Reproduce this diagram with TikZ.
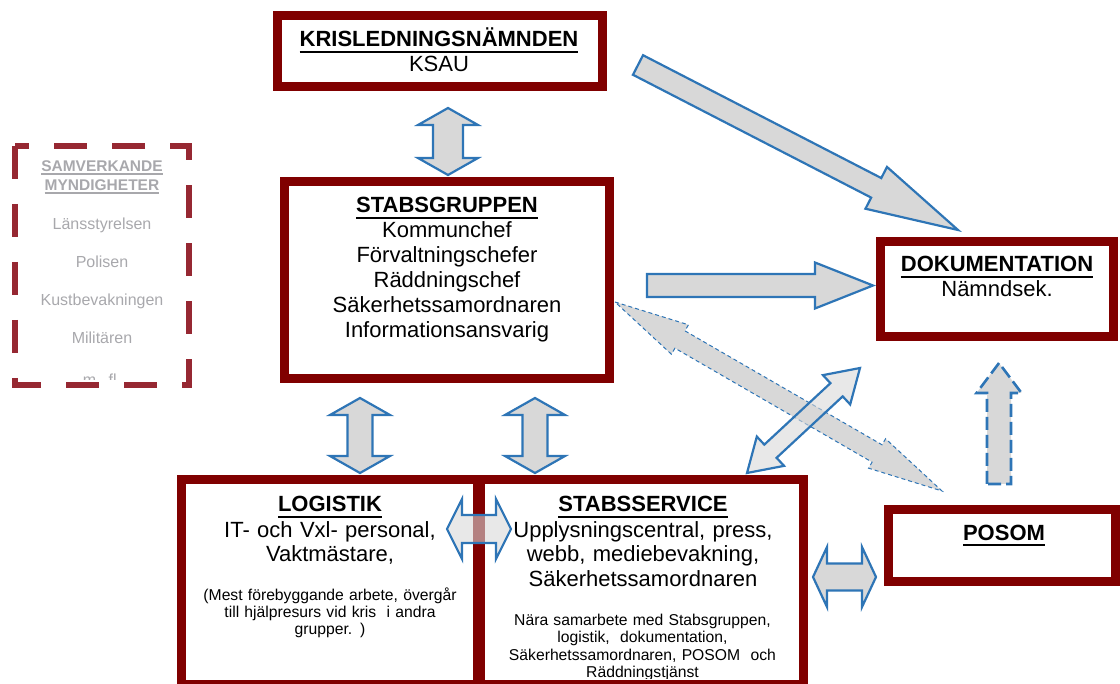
\documentclass[tikz,border=0pt]{standalone}
\usepackage{fontspec}
\setmainfont{Liberation Sans}
\usetikzlibrary{calc}

\definecolor{boxred}{RGB}{128,0,0}
\definecolor{dashred}{RGB}{150,40,50}
\definecolor{arrowblue}{RGB}{46,117,182}
\definecolor{arrowfill}{RGB}{216,216,216}
\definecolor{samgray}{RGB}{168,168,172}

% underlined title: depth, thickness, text
\newcommand{\ulbox}[3]{\leavevmode\setbox0\hbox{#3}\rlap{\rule[-#1]{\wd0}{#2}}\box0}

\tikzset{
  box/.style={draw=boxred, line width=9pt, inner sep=0pt},
  boxtext/.style={anchor=base, align=center, inner sep=0pt, text width=320pt,
    font=\fontsize{22}{25}\selectfont},
  smalltext/.style={anchor=base, align=center, inner sep=0pt, text width=320pt,
    font=\fontsize{15.7}{17.5}\selectfont},
  samtext/.style={anchor=base, align=center, inner sep=0pt, text width=170pt,
    text=samgray, font=\fontsize{16}{37.7}\selectfont},
  blockarr/.style={draw=arrowblue, line width=2.2pt, fill=arrowfill},
  thinarr/.style={draw=arrowblue, line width=1pt, dash pattern=on 4pt off 3pt, fill=arrowfill},
  thickarr/.style={draw=arrowblue, line width=2.6pt, dash pattern=on 13pt off 5pt, fill=arrowfill},
}

\begin{document}
\begin{tikzpicture}[x=1pt,y=-1pt]
    \newcommand{\onearrow}[6]{% style, tail, tip, shaft, head, head length
      \coordinate (hb) at ($(#3)!#6!(#2)$);
      \draw[#1] ($(#2)!#4!90:(#3)$) -- ($(hb)!#4!-90:(#2)$) -- ($(hb)!#5!-90:(#2)$) -- (#3)
        -- ($(hb)!#5!90:(#2)$) -- ($(hb)!#4!90:(#2)$) -- ($(#2)!#4!-90:(#3)$) -- cycle;
    }
    \newcommand{\twoarrow}[6]{% style, end, end, shaft, head, head length
      \coordinate (ha) at ($(#2)!#6!(#3)$);
      \coordinate (hb) at ($(#3)!#6!(#2)$);
      \draw[#1] (#2) -- ($(ha)!#5!90:(#3)$) -- ($(ha)!#4!90:(#3)$) -- ($(hb)!#4!-90:(#2)$)
        -- ($(hb)!#5!-90:(#2)$) -- (#3) -- ($(hb)!#5!90:(#2)$) -- ($(hb)!#4!90:(#2)$)
        -- ($(ha)!#4!-90:(#3)$) -- ($(ha)!#5!-90:(#3)$) -- cycle;
    }

    \useasboundingbox (0,0) rectangle (1120,684);

    % boxes
    \node[box, minimum width=325pt, minimum height=71pt] (kris) at (440,51) {};
    \node[box, minimum width=325pt, minimum height=197pt] (stabs) at (447,280) {};
    \node[box, minimum width=233pt, minimum height=95pt] (dok) at (996.5,289.5) {};
    \node[box, minimum width=227pt, minimum height=71pt] (posom) at (1001.5,545.5) {};
    \node[box, minimum width=296pt, minimum height=205pt] (logistik) at (329.5,582) {};
    \node[box, minimum width=323pt, minimum height=205pt] (service) at (642,582) {};

    % texts
    \node[boxtext] (krislabel) at (439,47) {\textbf{\ulbox{6pt}{2.3pt}{KRISLEDNINGSNÄMNDEN}}\\KSAU};
    \node[boxtext] (stabslabel) at (447,213) {\textbf{\ulbox{6pt}{2.3pt}{STABSGRUPPEN}}\\Kommunchef\\
      Förvaltningschefer\\Räddningschef\\Säkerhetssamordnaren\\Informationsansvarig};
    \node[boxtext] (doklabel) at (997,272) {\textbf{\ulbox{6pt}{2.3pt}{DOKUMENTATION}}\\Nämndsek.};
    \node[boxtext] (posomlabel) at (1004,540) {\textbf{\ulbox{6pt}{2.3pt}{POSOM}}};
    \node[boxtext] (loglabel) at (330,512) {\textbf{\ulbox{6pt}{2.3pt}{LOGISTIK}}\\
      IT- och Vxl- personal,\\Vaktmästare,};
    \node[smalltext] (lognote) at (330,600) {(Mest förebyggande arbete, övergår\\
      till hjälpresurs vid kris\ \ i andra\\grupper. )};
    \node[boxtext] (servlabel) at (643,512) {\textbf{\ulbox{6pt}{2.3pt}{STABSSERVICE}}\\
      Upplysningscentral, press,\\webb, mediebevakning,\\Säkerhetssamordnaren};
    \begin{scope}
      \clip (485,600) rectangle (800,678);
      \node[smalltext] (servnote) at (642.5,625) {Nära samarbete med Stabsgruppen,\\
        logistik,\ \ dokumentation,\\Säkerhetssamordnaren, POSOM\ \ och\\Räddningstjänst};
    \end{scope}

    % samverkande myndigheter
    \node[samtext, font=\bfseries\fontsize{15.5}{19}\selectfont] (samlabel) at (102,172)
      {\ulbox{3pt}{1.6pt}{SAMVERKANDE}\\\ulbox{3pt}{1.6pt}{MYNDIGHETER}};
    \node[samtext] (samlist) at (102,230) {Länsstyrelsen\\Polisen\\Kustbevakningen\\Militären};
    \begin{scope}
      \clip (20,150) rectangle (185,380);
      \node[samtext] (samrest) at (102,386) {m. fl.};
    \end{scope}
    \draw[dashred, line width=6pt, dash pattern=on 33pt off 25pt]
      (15,146) -- (15,385) -- (189,385) -- (189,146) -- cycle;

    % arrow ends
    \coordinate (ks1) at (448,108);  \coordinate (ks2) at (448,175);
    \coordinate (ls1) at (447,529);  \coordinate (ls2) at (511,529);
    \coordinate (sp1) at (813,577);  \coordinate (sp2) at (876,577);
    \coordinate (sd1) at (647,285.5); \coordinate (sd2) at (873,285.5);
    \coordinate (kd1) at (638,65);   \coordinate (kd2) at (958,230);
    \coordinate (sx1) at (615,302);  \coordinate (sx2) at (942,491);
    \coordinate (ds1) at (860,368);  \coordinate (ds2) at (747,473);
    \coordinate (pd1) at (999,484);  \coordinate (pd2) at (999,363);

    % arrows
    \onearrow{blockarr}{kd1}{kd2}{11pt}{23.5pt}{92pt}
    \onearrow{blockarr}{sd1}{sd2}{11.5pt}{23pt}{58pt}
    \twoarrow{thinarr}{sx1}{sx2}{10pt}{17pt}{75pt}
    \twoarrow{blockarr, fill opacity=0.6}{ds1}{ds2}{9pt}{20pt}{32pt}
    \onearrow{thickarr}{pd1}{pd2}{12pt}{22.5pt}{30pt}
    \twoarrow{blockarr}{ks1}{ks2}{15pt}{30pt}{17pt}
    \foreach \x/\n in {360/l,535/s}{
      \coordinate (top\n) at (\x,398);
      \coordinate (bot\n) at (\x,473);
      \twoarrow{blockarr}{top\n}{bot\n}{12.5pt}{30pt}{17pt}
    }
    \twoarrow{blockarr, fill opacity=0.6}{ls1}{ls2}{14pt}{30pt}{15pt}
    \twoarrow{blockarr}{sp1}{sp2}{13.5pt}{30pt}{14pt}
\end{tikzpicture}
\end{document}
